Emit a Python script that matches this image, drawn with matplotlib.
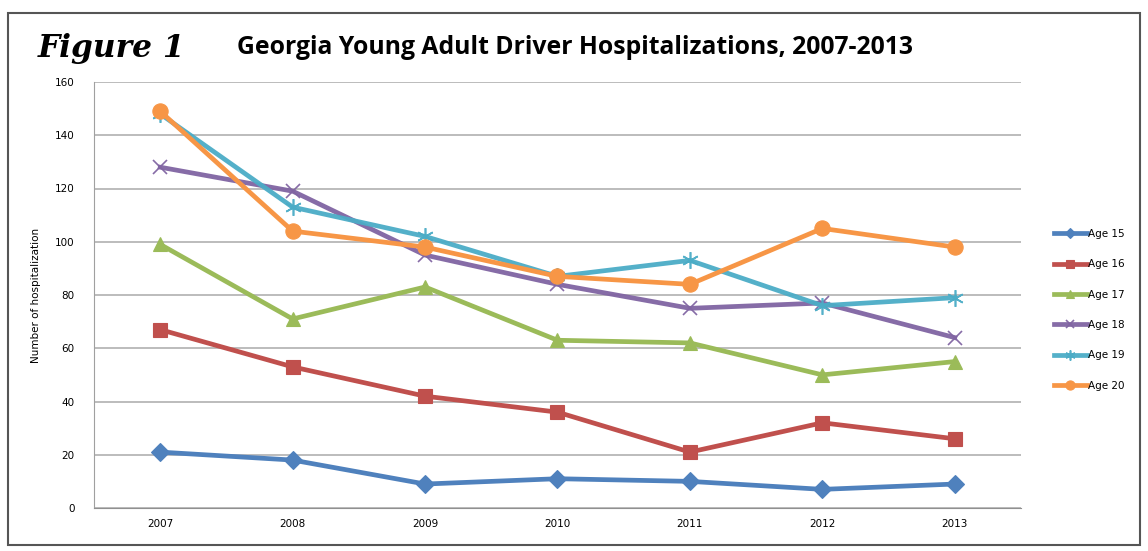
import matplotlib.pyplot as plt
from matplotlib.patches import Rectangle

years = ['2007', '2008', '2009', '2010', '2011', '2012', '2013']
age15 = [21, 18, 9, 11, 10, 7, 9]
age16 = [67, 53, 42, 36, 21, 32, 26]
age17 = [99, 71, 83, 63, 62, 50, 55]
age18 = [128, 119, 95, 84, 75, 77, 64]
age19 = [148, 113, 102, 87, 93, 76, 79]
age20 = [149, 104, 98, 87, 84, 105, 98]

series = [
    ('Age 15', age15, '#4F81BD', 'D', 9),
    ('Age 16', age16, '#C0504D', 's', 10),
    ('Age 17', age17, '#9BBB59', '^', 10),
    ('Age 18', age18, '#8064A2', 'x', 10),
    ('Age 19', age19, '#4BACC6', (6, 2, 0), 12),
    ('Age 20', age20, '#F79646', 'o', 11),
]

fig = plt.figure(figsize=(11.48, 5.51), dpi=100)

# outer chart frame
fig.patches.append(Rectangle((8 / 1148, 6 / 551), 1132 / 1148, 532 / 551,
                             transform=fig.transFigure, fill=False,
                             edgecolor='#555555', linewidth=1.5))

ax = fig.add_axes([94 / 1148, 43 / 551, 927 / 1148, 426 / 551])
x = range(len(years))
for name, vals, col, mk, ms in series:
    if mk in ('x', (6, 2, 0)):
        ax.plot(x, vals, color=col, linewidth=3.4, marker=mk, markersize=ms,
                markeredgewidth=1.2, markeredgecolor=col, alpha=0.95, label=name)
    else:
        ax.plot(x, vals, color=col, linewidth=3.4, marker=mk, markersize=ms,
                markeredgecolor=col, markeredgewidth=0.8, label=name)

ax.set_xlim(-0.5, 6.5)
ax.set_ylim(0, 160)
ax.set_xticks(list(x))
ax.set_xticklabels(years, fontsize=7.5)
ax.set_yticks(range(0, 161, 20))
ax.tick_params(axis='y', labelsize=7.5, length=0, pad=14)
ax.tick_params(axis='x', length=0, pad=8)
ax.grid(axis='y', color='#b0b0b0', linewidth=1.2)
ax.set_axisbelow(True)
for s in ['top', 'right']:
    ax.spines[s].set_visible(False)
ax.spines['left'].set_color('#a0a0a0')
ax.spines['bottom'].set_color('#909090')
ax.set_ylabel('Number of hospitalization', fontsize=7.5, labelpad=10)

ax.legend(loc='center left', bbox_to_anchor=(1.025, 0.465), frameon=False,
          fontsize=7.5, handlelength=3.2, handletextpad=0.1, labelspacing=1.95,
          markerscale=0.6)

fig.text(38 / 1148, 1 - 48 / 551, 'Figure 1', fontsize=22.5, fontweight='bold',
         fontstyle='italic', family='DejaVu Serif', va='center')
fig.text(237 / 1148, 1 - 48 / 551, 'Georgia Young Adult Driver Hospitalizations, 2007-2013',
         fontsize=17.8, fontweight='bold', family='Open Sans', va='center')

fig.savefig('out.png', dpi=100)
